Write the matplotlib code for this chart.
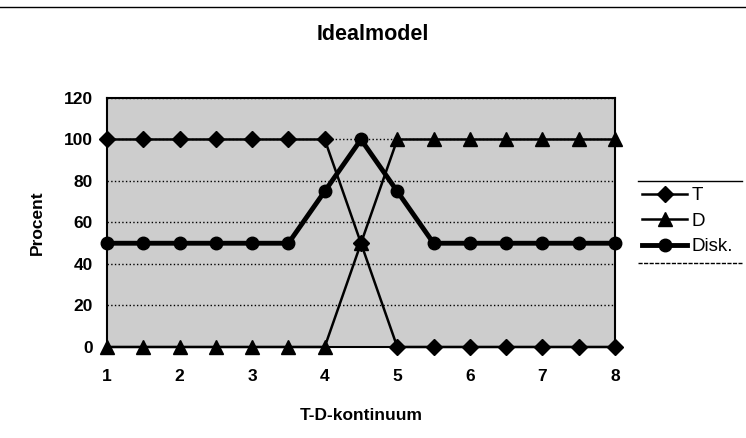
import matplotlib
matplotlib.use("Agg")
import matplotlib.pyplot as plt
from matplotlib.lines import Line2D

plt.rcParams['font.family'] = ['Liberation Sans', 'DejaVu Sans']

x = [1, 1.5, 2, 2.5, 3, 3.5, 4, 4.5, 5, 5.5, 6, 6.5, 7, 7.5, 8]
t_vals = [100, 100, 100, 100, 100, 100, 100, 50, 0, 0, 0, 0, 0, 0, 0]
d_vals = [0, 0, 0, 0, 0, 0, 0, 50, 100, 100, 100, 100, 100, 100, 100]
disk_vals = [50, 50, 50, 50, 50, 50, 75, 100, 75, 50, 50, 50, 50, 50, 50]
yticks = [0, 20, 40, 60, 80, 100, 120]
xticks = [1, 2, 3, 4, 5, 6, 7, 8]

fig = plt.figure(figsize=(7.46, 4.38), dpi=100)
ax = fig.add_axes([0.1434, 0.2078, 0.681, 0.5685])
ax.set_facecolor('#cdcdcd')

ax.plot(x, t_vals, color='black', lw=1.8, marker='D', ms=8, label='T', clip_on=False, zorder=3)
ax.plot(x, d_vals, color='black', lw=1.8, marker='^', ms=10, label='D', clip_on=False, zorder=3)
ax.plot(x, disk_vals, color='black', lw=3.5, marker='o', ms=9, label='Disk.', clip_on=False, zorder=4)

ax.set_xlim(1, 8)
ax.set_ylim(0, 120)
ax.set_xticks(xticks)
ax.set_yticks(yticks)
ax.yaxis.grid(True, linestyle=':', color='black', lw=1)
ax.set_axisbelow(True)
ax.tick_params(axis='x', length=0, labelsize=12.5, pad=16)
ax.tick_params(axis='y', length=0, labelsize=12.5, pad=10)
for lab in ax.get_xticklabels() + ax.get_yticklabels():
    lab.set_fontweight('bold')
for s in ax.spines.values():
    s.set_linewidth(1.5)

ax.set_xlabel('T-D-kontinuum', fontsize=12.5, fontweight='bold', labelpad=17)
ax.set_ylabel('Procent', fontsize=12.5, fontweight='bold', labelpad=14)
fig.suptitle('Idealmodel', fontsize=15.5, fontweight='bold', y=0.945)

leg = ax.legend(loc='center left', bbox_to_anchor=(1.02, 0.505), frameon=False,
                fontsize=13.5, handlelength=2.4, handletextpad=0.25, labelspacing=0.45)

fig.add_artist(Line2D([0, 1], [0.985, 0.985], color='black', lw=1))
fig.add_artist(Line2D([0.855, 0.995], [0.587, 0.587], color='black', lw=1))
fig.add_artist(Line2D([0.855, 0.995], [0.40, 0.40], color='black', lw=1, ls=(0, (3, 1))))

fig.savefig('out.png', dpi=100)
